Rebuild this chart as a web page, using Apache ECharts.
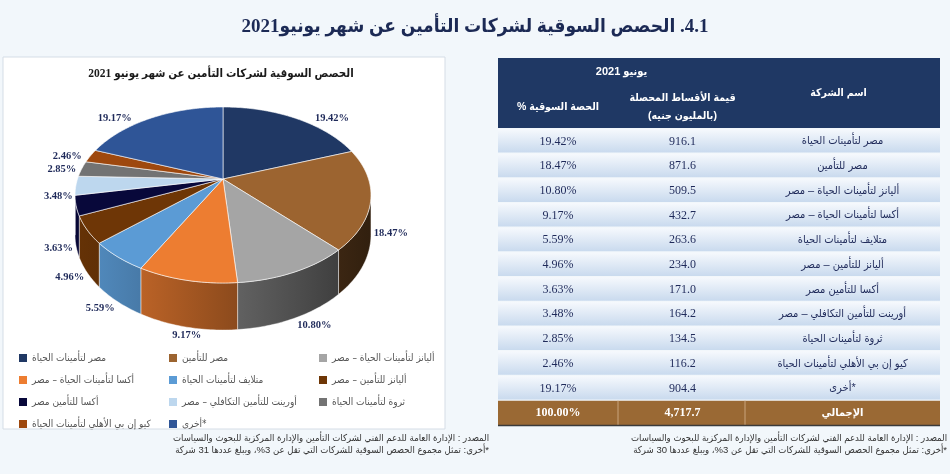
<!DOCTYPE html>
<html><head><meta charset="utf-8">
<script src="https://cdn.jsdelivr.net/npm/echarts@6/dist/echarts.min.js"></script>
<style>html,body{margin:0;padding:0;background:#f2f7fb;}#c{width:950px;height:474px;}</style>
</head><body><div id="c"></div>
<script>
// ---------- data ----------
const companies = [
  'مصر لتأمينات الحياة',
  'مصر للتأمين',
  'أليانز لتأمينات الحياة – مصر',
  'أكسا لتأمينات الحياة – مصر',
  'متلايف لتأمينات الحياة',
  'أليانز للتأمين – مصر',
  'أكسا للتأمين مصر',
  'أورينت للتأمين التكافلي – مصر',
  'ثروة لتأمينات الحياة',
  'كيو إن بي الأهلي لتأمينات الحياة',
  '\u200E\u202Aأخرى*\u202C\u200E'
];
const premiums = [916.1, 871.6, 509.5, 432.7, 263.6, 234.0, 171.0, 164.2, 134.5, 116.2, 904.4];
const shares = [19.42, 18.47, 10.80, 9.17, 5.59, 4.96, 3.63, 3.48, 2.85, 2.46, 19.17];
const totalPremiumLabel = '4,717.7';
const totalShareLabel = '100.00%';
const totalName = 'الإجمالي';

const mainTitle = '4.1. الحصص السوقية لشركات التأمين عن شهر يونيو2021';
const pieTitle = 'الحصص السوقية لشركات التأمين عن شهر يونيو 2021';
const headPeriod = 'يونيو 2021';
const headName = 'اسم الشركة';
const headValue1 = 'قيمة الأقساط المحصلة';
const headValue2 = '(بالمليون جنيه)';
const headShare = 'الحصة السوقية %';
const sourceNote = 'المصدر : الإدارة العامة للدعم الفني لشركات التأمين والإدارة المركزية للبحوث والسياسات';
const otherNoteLeft = '*أخرى: تمثل مجموع الحصص السوقية للشركات التي تقل عن 3%، ويبلغ عددها 31 شركة';
const otherNoteRight = '*أخرى: تمثل مجموع الحصص السوقية للشركات التي تقل عن 3%، ويبلغ عددها 30 شركة';

// ---------- styles ----------
const colors = ['#203864', '#9c6430', '#a5a5a5', '#ed7d31', '#5b9bd5', '#6e3606',
                '#08083a', '#bdd7ee', '#737373', '#9e480e', '#2f5597'];
const RTL = s => '\u2067' + s + '\u2069';
const SERIF = "'Liberation Serif','DejaVu Sans Condensed','DejaVu Sans'";
const SANS = "'Liberation Sans','DejaVu Sans Condensed','DejaVu Sans'";

// pie geometry (pseudo-3D projection)
const CX = 223, CY = 179, RX = 145.5, AY = 52.55, K = -0.1818, D0 = 38.5;
const SIL = Math.acos(K) * 180 / Math.PI; // silhouette angle
const TOTAL = premiums.reduce((a, b) => a + b, 0);
const cum = [];
premiums.reduce((acc, v, i) => { cum[i] = acc; return acc + v; }, 0);

function proj(deg) {
  const t = deg * Math.PI / 180;
  const u = Math.sin(t), v = -Math.cos(t);
  const den = 1 + K * v;
  return { x: CX + RX * u / den, y: (AY * v + CY) / den, u, v, den };
}
function shade(hex, f) {
  const n = parseInt(hex.slice(1), 16);
  const r = Math.min(255, Math.round(((n >> 16) & 255) * f));
  const g = Math.min(255, Math.round(((n >> 8) & 255) * f));
  const b = Math.min(255, Math.round((n & 255) * f));
  return 'rgb(' + r + ',' + g + ',' + b + ')';
}

function renderSlice(params, api) {
  const i = params.dataIndex;
  const a0 = api.value(1) / TOTAL * 360;
  const a1 = (api.value(1) + api.value(0)) / TOTAL * 360;
  const children = [];
  const n = Math.max(2, Math.ceil(a1 - a0));
  const topPts = [[CX, CY]];
  for (let k = 0; k <= n; k++) { const p = proj(a0 + (a1 - a0) * k / n); topPts.push([p.x, p.y]); }
  children.push({ type: 'polygon', shape: { points: topPts }, z2: 20,
    style: { fill: colors[i], stroke: 'rgba(255,255,255,0.75)', lineWidth: 0.8 } });
  const f0 = Math.max(a0, SIL), f1 = Math.min(a1, 360 - SIL);
  if (f1 > f0) {
    const m = Math.max(2, Math.ceil(f1 - f0));
    const up = [], down = [];
    for (let k = 0; k <= m; k++) {
      const p = proj(f0 + (f1 - f0) * k / m);
      up.push([p.x, p.y]);
      down.push([p.x, p.y + D0 / p.den]);
    }
    const stops = [];
    for (let s = 0; s <= 4; s++) {
      const u = -1 + 2 * s / 4;
      stops.push({ offset: s / 4, color: shade(colors[i], 0.62 - 0.3 * u) });
    }
    children.push({ type: 'polygon', shape: { points: up.concat(down.reverse()) }, z2: 10,
      style: { fill: new echarts.graphic.LinearGradient(CX - RX, 0, CX + RX, 0, stops, true),
               stroke: 'rgba(255,255,255,0.55)', lineWidth: 0.8 } });
  }
  // label
  const mid = (a0 + a1) / 2;
  const p = proj(mid);
  let ly = p.y + (p.v > 0 ? D0 / p.den * Math.min(1, p.v * 3.5) + p.v * 8 : 0);
  const extra = Math.max(0, -p.v) * 20;
  let lx = p.x, al = 'center';
  if (p.u > 0.3) { lx = p.x + 3 + extra; al = 'left'; }
  else if (p.u < -0.3) { lx = p.x - 3 - extra; al = 'right'; }
  children.push({ type: 'text', x: lx, y: ly, z2: 30,
    style: { text: shares[i].toFixed(2) + '%', fill: '#1f2a5a', font: 'bold 10.5px ' + SERIF,
             align: al, textAlign: al, verticalAlign: 'middle', textVerticalAlign: 'middle' } });
  return { type: 'group', children };
}

// ---------- table (graphic) ----------
const g = [];
const txt = (x, y, text, font, fill, align) => ({ type: 'text', x, y, z: 2,
  style: { text, font, fill, align: align || 'center', textAlign: align || 'center',
           verticalAlign: 'middle', textVerticalAlign: 'middle' } });
// page title
g.push(txt(475, 27, RTL(mainTitle), 'bold 19px ' + SERIF, '#1c2a55'));
// left panel
g.push({ type: 'rect', z: 0, shape: { x: 3, y: 57, width: 442, height: 372 },
  style: { fill: '#ffffff', stroke: '#d5dde6', lineWidth: 1 } });
g.push(txt(221, 74, RTL(pieTitle), 'bold 11.5px ' + SERIF, '#1a1a1a'));
// footnotes
g.push(txt(489, 438, RTL(sourceNote), '9.5px ' + SANS, '#333333', 'right'));
g.push(txt(489, 450, RTL(otherNoteLeft), '9.5px ' + SANS, '#333333', 'right'));
g.push(txt(947, 438, RTL(sourceNote), '9.5px ' + SANS, '#333333', 'right'));
g.push(txt(947, 450, RTL(otherNoteRight), '9.5px ' + SANS, '#333333', 'right'));
// table
const TX0 = 498, TX1 = 940, C1 = 618, C2 = 745, HT = 58, HB = 128, R0 = 129, RH = 24.7;
const xs = [(TX0 + C1) / 2, (C1 + C2) / 2 + 1, (C2 + TX1) / 2];
g.push({ type: 'rect', z: 1, shape: { x: TX0, y: HT, width: TX1 - TX0, height: HB - HT },
  style: { fill: '#1f3864' } });
g.push(txt((TX0 + C2) / 2, 72, RTL(headPeriod), 'bold 11px ' + SANS, '#ffffff'));
g.push(txt(xs[2] - 4, 93, RTL(headName), 'bold 10.5px ' + SANS, '#ffffff'));
g.push(txt(xs[1], 98, RTL(headValue1), 'bold 10.5px ' + SANS, '#ffffff'));
g.push(txt(xs[1], 116, RTL(headValue2), 'bold 10.5px ' + SANS, '#ffffff'));
g.push(txt(xs[0], 107, RTL(headShare), 'bold 10.5px ' + SANS, '#ffffff'));
for (let i = 0; i < companies.length; i++) {
  const top = R0 + i * RH;
  g.push({ type: 'rect', z: 1, shape: { x: TX0, y: top, width: TX1 - TX0, height: RH - 1.2 },
    style: { fill: new echarts.graphic.LinearGradient(0, 0, 0, 1,
      [{ offset: 0, color: '#f6f9fd' }, { offset: 1, color: '#c9daee' }]) } });
  const cy = top + RH / 2;
  g.push(txt(xs[0], cy, shares[i].toFixed(2) + '%', '12px ' + SERIF, '#1f2a5a'));
  g.push(txt(xs[1], cy, premiums[i].toFixed(1), '12px ' + SERIF, '#1f2a5a'));
  g.push(txt(xs[2], cy, companies[i], '11px ' + SANS, '#1f2a5a'));
}
{
  const top = R0 + companies.length * RH;
  g.push({ type: 'rect', z: 1, shape: { x: TX0, y: top, width: TX1 - TX0, height: RH },
    style: { fill: '#9a6934' } });
  g.push({ type: 'line', z: 2, shape: { x1: C1, y1: top, x2: C1, y2: top + RH }, style: { stroke: '#c9a57c', lineWidth: 1 } });
  g.push({ type: 'line', z: 2, shape: { x1: C2, y1: top, x2: C2, y2: top + RH }, style: { stroke: '#c9a57c', lineWidth: 1 } });
  g.push({ type: 'line', z: 2, shape: { x1: TX0, y1: top + RH, x2: TX1, y2: top + RH }, style: { stroke: '#3a3a3a', lineWidth: 1.5 } });
  const cy = top + RH / 2;
  g.push(txt(xs[0], cy, totalShareLabel, 'bold 12px ' + SERIF, '#ffffff'));
  g.push(txt(xs[1], cy, totalPremiumLabel, 'bold 12px ' + SERIF, '#ffffff'));
  g.push(txt(xs[2], cy, totalName, 'bold 11px ' + SANS, '#ffffff'));
}

const chart = echarts.init(document.getElementById('c'), null, { renderer: 'canvas' });
chart.setOption({
  animation: false,
  backgroundColor: '#f2f7fb',
  graphic: { elements: g },
  legend: {
    left: 14, top: 347, width: 460, orient: 'horizontal',
    icon: 'rect', itemWidth: 8, itemHeight: 8, itemGap: 10,
    data: companies,
    textStyle: { width: 127, overflow: 'none', fontSize: 10, lineHeight: 12,
                 fontFamily: "'DejaVu Sans Condensed','DejaVu Sans'", color: '#555555' }
  },
  series: [
    { type: 'pie', z: 1, silent: true, center: [CX, CY + 30], radius: 6,
      label: { show: false }, labelLine: { show: false },
      data: companies.map((n, i) => ({ name: n, value: premiums[i], itemStyle: { color: colors[i] } })) },
    { type: 'custom', z: 5, coordinateSystem: 'none', silent: true,
      renderItem: renderSlice,
      data: premiums.map((v, i) => [v, cum[i], i]) }
  ]
});
</script></body></html>
